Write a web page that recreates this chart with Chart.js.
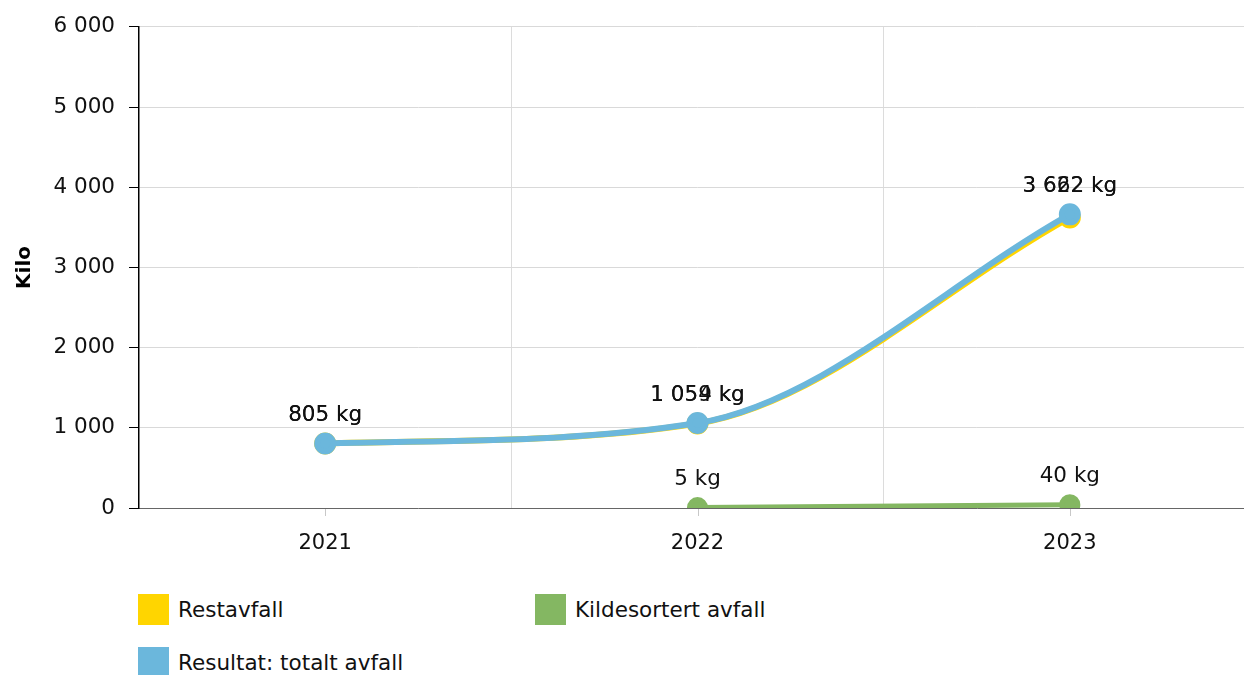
<!DOCTYPE html>
<html>
<head>
<meta charset="utf-8">
<script src="https://cdn.jsdelivr.net/npm/chart.js@4/dist/chart.umd.min.js"></script>
<style>
    html, body { margin: 0; padding: 0; background: #fff; overflow: hidden; }
    body { width: 1244px; height: 675px; position: relative; font-family: "DejaVu Sans", Verdana, sans-serif; }
    #wrap { position: absolute; left: 0; top: 0; width: 1244px; height: 570px; overflow: hidden; }
    #chart { position: absolute; left: 0; top: 0; }
    #legend { position: absolute; left: 138px; top: 594px; width: 800px; }
    .item { position: absolute; display: flex; align-items: center; font-size: 21.5px; color: #111; }
    .box { width: 31px; height: 31px; margin-right: 9px; }
</style>
</head>
<body>
<div id="wrap"><canvas id="chart" width="1256" height="570"></canvas></div>
<div id="legend"></div>
<script>
const years = ['2021', '2022', '2023'];
const restavfall = [805, 1054, 3622];
const kildesortert = [null, 5, 40];
const totalt = [805, 1059, 3662];
const yTicks = [0, 1000, 2000, 3000, 4000, 5000, 6000];

const YELLOW = '#FFD500';
const GREEN = '#84B762';
const BLUE = '#6BB7DC';
const FONT = '"DejaVu Sans", Verdana, sans-serif';

function fmt(v) {
    return String(v).replace(/\B(?=(\d{3})+(?!\d))/g, ' ');
}

// value labels above each point; labels of points lying close together share one line
const pointLabels = {
    id: 'pointLabels',
    afterDatasetsDraw(chart) {
        const ctx = chart.ctx;
        ctx.save();
        ctx.font = '21.5px ' + FONT;
        ctx.fillStyle = '#111';
        ctx.textAlign = 'center';
        ctx.textBaseline = 'middle';
        const metas = chart.data.datasets.map((ds, i) => chart.getDatasetMeta(i));
        chart.data.datasets.forEach((ds, i) => {
            metas[i].data.forEach((pt, j) => {
                const v = ds.data[j];
                if (v === null || v === undefined) return;
                let y = pt.y;
                metas.forEach((m, k) => {
                    const ov = chart.data.datasets[k].data[j];
                    if (ov !== null && ov !== undefined && Math.abs(m.data[j].y - pt.y) < 10) y = Math.min(y, m.data[j].y);
                });
                ctx.fillText(fmt(v) + ' kg', pt.x, y - 28);
            });
        });
        ctx.restore();
    }
};

// small tick marks under the x axis at each category
const xTickMarks = {
    id: 'xTickMarks',
    afterDraw(chart) {
        const x = chart.scales.x;
        const ctx = chart.ctx;
        ctx.save();
        ctx.strokeStyle = '#c8c8c8';
        ctx.lineWidth = 1;
        years.forEach((y, i) => {
            const px = Math.round(x.getPixelForValue(i)) + 0.5;
            ctx.beginPath();
            ctx.moveTo(px, x.top + 1);
            ctx.lineTo(px, x.top + 8);
            ctx.stroke();
        });
        ctx.restore();
    }
};

const lineStyle = (label, data, color, order, width) => ({
    label: label,
    data: data,
    borderColor: color,
    backgroundColor: color,
    pointBackgroundColor: color,
    pointBorderColor: color,
    borderWidth: width,
    pointRadius: 8,
    pointHoverRadius: 8,
    cubicInterpolationMode: 'monotone',
    fill: false,
    order: order
});

const datasets = [
    lineStyle('Restavfall', restavfall, YELLOW, 2, 6),
    lineStyle('Kildesortert avfall', kildesortert, GREEN, 1, 5),
    lineStyle('Resultat: totalt avfall', totalt, BLUE, 0, 6)
];

Chart.defaults.font.family = FONT;
Chart.defaults.color = '#111';

const chart = new Chart(document.getElementById('chart'), {
    type: 'line',
    data: { labels: years, datasets: datasets },
    options: {
        responsive: false,
        animation: false,
        layout: { autoPadding: false, padding: { top: 26, left: 0, right: 0, bottom: 0 } },
        plugins: {
            legend: { display: false },
            tooltip: { enabled: false }
        },
        scales: {
            x: {
                offset: true,
                grid: { offset: true, color: '#dcdcdc', drawTicks: false },
                border: { color: '#666', width: 1 },
                ticks: { padding: 23, font: { size: 21 }, color: '#111' },
                afterFit(scale) { scale.height = 62; }
            },
            y: {
                min: 0,
                max: 6000,
                afterBuildTicks(scale) { scale.ticks = yTicks.map(v => ({ value: v })); },
                grid: { color: '#d9d9d9', tickColor: '#000', tickLength: 10 },
                border: { color: '#000', width: 1.5 },
                ticks: { padding: 14, font: { size: 21.5 }, color: '#111', callback: v => fmt(v) },
                title: { display: true, text: 'Kilo', font: { size: 20, weight: 'bold' }, color: '#000', padding: { top: 13, bottom: 0 } },
                afterFit(scale) { scale.width = 139; }
            }
        }
    },
    plugins: [pointLabels, xTickMarks]
});

// legend in two columns below the chart
const legend = document.getElementById('legend');
const legendPos = [[0, 0], [397, 0], [0, 53]];
datasets.forEach((ds, i) => {
    const el = document.createElement('div');
    el.className = 'item';
    el.style.left = legendPos[i][0] + 'px';
    el.style.top = legendPos[i][1] + 'px';
    el.innerHTML = '<span class="box" style="background:' + ds.borderColor + '"></span>';
    const t = document.createElement('span');
    t.textContent = ds.label;
    el.appendChild(t);
    legend.appendChild(el);
});
</script>
</body>
</html>
